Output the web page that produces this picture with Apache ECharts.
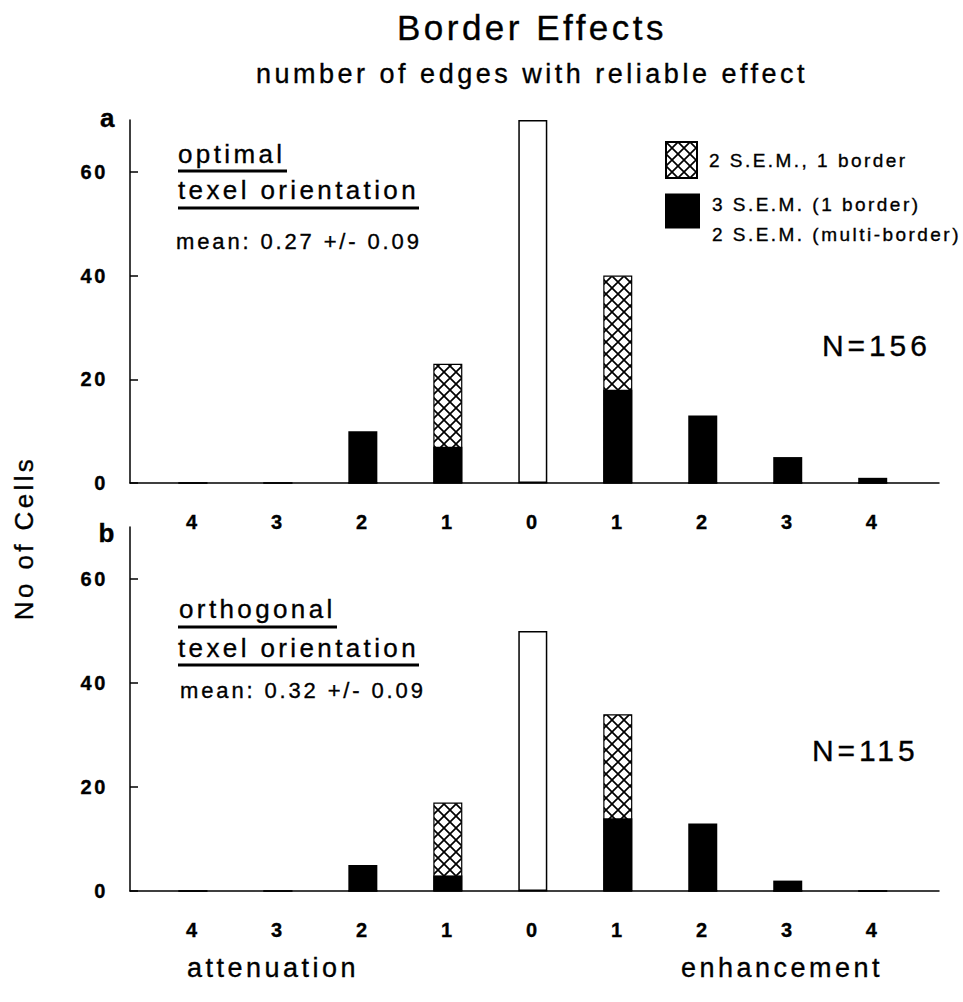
<!DOCTYPE html>
<html>
<head>
<meta charset="utf-8">
<title>Border Effects</title>
<script src="https://cdn.jsdelivr.net/npm/echarts@6/dist/echarts.min.js"></script>
<style>
  html, body { margin: 0; padding: 0; background: #fff; }
  #chart { width: 963px; height: 1002px; }
  /* the printed figure uses a loosely tracked, fairly heavy Helvetica */
  #chart text { letter-spacing: 0.13em; stroke: #000; stroke-width: 0.35px; }
  #chart text[style*="35px"] { letter-spacing: 0.1em; }
</style>
</head>
<body>
<div id="chart"></div>
<script>
const FONT = '"Liberation Sans", Arial, Helvetica, sans-serif'

// number of edges, attenuation side (left) then enhancement side (right)
const edgeLabels = ['4', '3', '2', '1', '0', '1', '2', '3', '4']
const yTicks = [0, 20, 40, 60]

// panel a: optimal texel orientation (N=156)
// solid = 3 S.E.M. cells, hatchTop = top of the cross-hatched segment (solid + 2 S.E.M.)
const aSolid = [0, 0, 10, 7, 0, 18, 13, 5, 1]
const aHatchTop = [0, 0, 0, 23, 0, 40, 0, 0, 0]
const aOpen = [0, 0, 0, 0, 70, 0, 0, 0, 0]

// panel b: orthogonal texel orientation (N=115)
const bSolid = [0, 0, 5, 3, 0, 14, 13, 2, 0]
const bHatchTop = [0, 0, 0, 17, 0, 34, 0, 0, 0]
const bOpen = [0, 0, 0, 0, 50, 0, 0, 0, 0]

const HATCH_NAME = '2 S.E.M., 1 border'
const SOLID_NAME = '3 S.E.M. (1 border) / 2 S.E.M. (multi-border)'

const TILE = 12
function crossHatch() {
  const c = document.createElement('canvas')
  c.width = TILE
  c.height = TILE
  const ctx = c.getContext('2d')
  ctx.fillStyle = '#fff'
  ctx.fillRect(0, 0, TILE, TILE)
  ctx.strokeStyle = '#000'
  ctx.lineWidth = 1.7
  ctx.beginPath()
  ctx.moveTo(-2, -2); ctx.lineTo(TILE + 2, TILE + 2)
  ctx.moveTo(-2, TILE + 2); ctx.lineTo(TILE + 2, -2)
  ctx.stroke()
  return c
}
const hatchFill = { image: crossHatch(), repeat: 'repeat', imageWidth: TILE, imageHeight: TILE }

const grids = [
  { left: 130, top: 120, width: 809, height: 363, outerBoundsMode: 'none' },
  { left: 130, top: 527, width: 809, height: 364, outerBoundsMode: 'none' },
]

function xAxisFor(gridIndex) {
  return {
    type: 'value',
    gridIndex,
    min: -0.74,
    max: 8.78,
    axisLine: { show: true, onZero: false, lineStyle: { color: '#000', width: 1.5 } },
    axisTick: { show: false },
    splitLine: { show: false },
    axisLabel: {
      customValues: edgeLabels.map((_, i) => i),
      formatter: (v) => edgeLabels[v],
      margin: 29,
      color: '#000',
      fontSize: 20,
      fontWeight: 'bold',
      fontFamily: FONT,
    },
  }
}

function yAxisFor(gridIndex) {
  return {
    type: 'value',
    gridIndex,
    min: 0,
    max: 70,
    axisLine: { show: true, onZero: false, lineStyle: { color: '#000', width: 1.5 } },
    axisTick: { show: true, inside: true, length: 8, customValues: yTicks, lineStyle: { color: '#000', width: 1.5 } },
    splitLine: { show: false },
    axisLabel: {
      customValues: yTicks,
      margin: 22,
      color: '#000',
      fontSize: 20,
      fontWeight: 'bold',
      fontFamily: FONT,
    },
  }
}

function bars(name, values, gridIndex, itemStyle) {
  return {
    type: 'bar',
    name,
    xAxisIndex: gridIndex,
    yAxisIndex: gridIndex,
    barWidth: 29,
    barGap: '-100%',
    silent: true,
    itemStyle,
    data: values.map((v, i) => [i, v]),
  }
}

const solidStyle = { color: '#000' }
const hatchStyle = { color: hatchFill, borderColor: '#000', borderWidth: 1.2 }
const openStyle = { color: '#fff', borderColor: '#000', borderWidth: 1.5 }

function label(text, x, y, size, opts = {}) {
  return {
    type: 'text',
    x, y,
    rotation: opts.rotation || 0,
    silent: true,
    style: {
      text,
      fill: '#000',
      fontSize: size,
      fontWeight: opts.bold ? 'bold' : 'normal',
      fontFamily: FONT,
      align: opts.align || 'left',
      verticalAlign: 'middle',
    },
  }
}

function underline(x1, x2, y) {
  return {
    type: 'line',
    silent: true,
    shape: { x1, y1: y, x2, y2: y },
    style: { stroke: '#000', lineWidth: 3 },
  }
}

const chart = echarts.init(document.getElementById('chart'), null, { renderer: 'svg' })

chart.setOption({
  animation: false,
  backgroundColor: '#fff',
  grid: grids,
  xAxis: [xAxisFor(0), xAxisFor(1)],
  yAxis: [yAxisFor(0), yAxisFor(1)],
  legend: [
    {
      left: 665, top: 141, padding: 0, orient: 'vertical',
      itemWidth: 31, itemHeight: 36, icon: 'rect', selectedMode: false,
      data: [HATCH_NAME],
      formatter: (n) => '{t|' + n + '}',
      textStyle: { rich: { t: { fontSize: 19, color: '#000', fontFamily: FONT, padding: [0, 0, 0, 7] } } },
    },
    {
      left: 665, top: 176, padding: 0, orient: 'vertical',
      itemWidth: 35, itemHeight: 35, icon: 'rect', selectedMode: false,
      data: [SOLID_NAME],
      formatter: () => '{sp| }\n{t|3 S.E.M. (1 border)}\n{t|2 S.E.M. (multi-border)}',
      textStyle: {
        rich: {
          sp: { fontSize: 10, lineHeight: 17 },
          t: { fontSize: 19, lineHeight: 30, color: '#000', fontFamily: FONT, padding: [0, 0, 0, 7] },
        },
      },
    },
  ],
  series: [
    // hatched drawn first so the solid part covers its lower end
    bars(HATCH_NAME, aHatchTop, 0, hatchStyle),
    bars(SOLID_NAME, aSolid, 0, solidStyle),
    bars('none', aOpen, 0, openStyle),
    bars(HATCH_NAME, bHatchTop, 1, hatchStyle),
    bars(SOLID_NAME, bSolid, 1, solidStyle),
    bars('none', bOpen, 1, openStyle),
  ],
  graphic: [
    label('Border Effects', 532, 27, 35, { align: 'center' }),
    label('number of edges with reliable effect', 532, 74, 27, { align: 'center' }),
    label('No of Cells', 24, 538, 26, { align: 'center', rotation: Math.PI / 2 }),
    label('a', 109, 118, 26, { bold: true, align: 'center' }),
    label('b', 108, 533, 26, { bold: true, align: 'center' }),

    label('optimal', 178, 154, 26),
    underline(178, 287, 171),
    label('texel orientation', 178, 190, 26),
    underline(178, 419, 208),
    label('mean: 0.27 +/- 0.09', 176, 241, 22),
    label('N=156', 822, 345, 30),

    label('orthogonal', 179, 609, 26),
    underline(178, 337, 627),
    label('texel orientation', 178, 648, 26),
    underline(178, 419, 665),
    label('mean: 0.32 +/- 0.09', 180, 690, 22),
    label('N=115', 812, 750, 30),

    label('attenuation', 273, 968, 27, { align: 'center' }),
    label('enhancement', 782, 968, 27, { align: 'center' }),
  ],
})

window.addEventListener('resize', () => chart.resize())
</script>
</body>
</html>
